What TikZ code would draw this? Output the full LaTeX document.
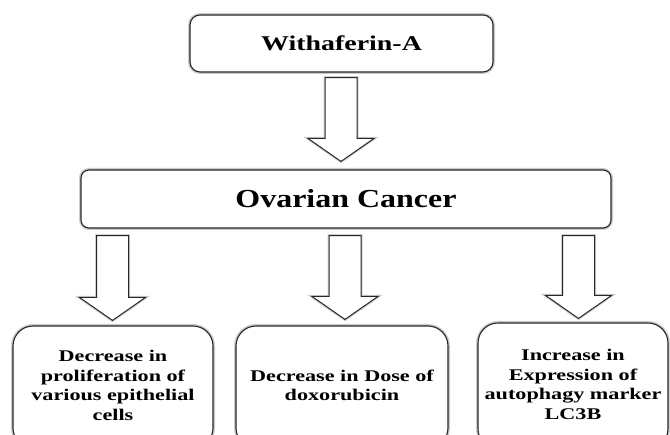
\documentclass[tikz,border=0pt]{standalone}
\usepackage{fontspec}
\setmainfont{Liberation Serif}
\usetikzlibrary{calc}
\tikzset{
  box/.style={draw=black!85, line width=1.1pt, rounded corners=#1, fill=white,
    preaction={draw=black!20, line width=4pt}, align=center, inner sep=0pt},
  fatarr/.style={draw=black!85, line width=1pt, fill=white, line join=miter,
    preaction={draw=black!18, line width=3pt}},
}
\newcommand\fatarrow[2]{%
  \draw[fatarr] let \p1=(#1), \p2=(#2) in
    (\x1-16pt,\y1) -- (\x1+16pt,\y1) -- (\x1+16pt,\y2+23pt) -- (\x1+33pt,\y2+23pt)
    -- (\x1,\y2) -- (\x1-33pt,\y2+23pt) -- (\x1-16pt,\y2+23pt) -- cycle;}
\newcommand\wide[2]{\scalebox{#1}[1]{#2}}
\begin{document}
\begin{tikzpicture}[x=1pt,y=-1pt]
\clip (0,0) rectangle (670,435);
\fill[white] (0,0) rectangle (670,435);
% boxes
\node[box=10pt, minimum width=303pt, minimum height=57pt] (w) at (341.5,43.5)
  {\fontsize{21}{25}\selectfont\bfseries\wide{1.33}{Withaferin-A}};
\node[box=8pt, minimum width=530pt, minimum height=58pt] (ov) at (346,199)
  {\fontsize{26}{30}\selectfont\bfseries\wide{1.23}{Ovarian Cancer}};
\node[box=20pt, minimum width=200pt, minimum height=122pt] (b1) at (113,387)
  {\fontsize{16.3}{19.8}\selectfont\bfseries\wide{1.36}{\begin{tabular}{@{}c@{}}Decrease in\\proliferation of\\various epithelial\\cells\end{tabular}}};
\node[box=20pt, minimum width=212pt, minimum height=122pt] (b2) at (342,387)
  {\fontsize{16.3}{19.8}\selectfont\bfseries\wide{1.36}{\begin{tabular}{@{}c@{}}Decrease in Dose of\\doxorubicin\end{tabular}}};
\node[box=20pt, minimum width=190pt, minimum height=126pt] (b3) at (573,386)
  {\fontsize{16.3}{19.8}\selectfont\bfseries\wide{1.36}{\begin{tabular}{@{}c@{}}Increase in\\Expression of\\autophagy marker\\LC3B\end{tabular}}};
% arrow end points
\coordinate (s0) at ($(w.south)+(-0.5,5)$);
\coordinate (t0) at ($(ov.north)+(0,-8)$);
\coordinate (s1) at ($(ov.south)+(-233.5,7)$);
\coordinate (t1) at ($(b1.north)+(0,-5)$);
\coordinate (s2) at ($(ov.south)+(-1,7)$);
\coordinate (t2) at ($(b2.north)+(0,-6)$);
\coordinate (s3) at ($(ov.south)+(232.5,7)$);
\coordinate (t3) at ($(b3.north)+(0,-4)$);
\fatarrow{s0}{t0}
\fatarrow{s1}{t1}
\fatarrow{s2}{t2}
\fatarrow{s3}{t3}
\end{tikzpicture}
\end{document}
